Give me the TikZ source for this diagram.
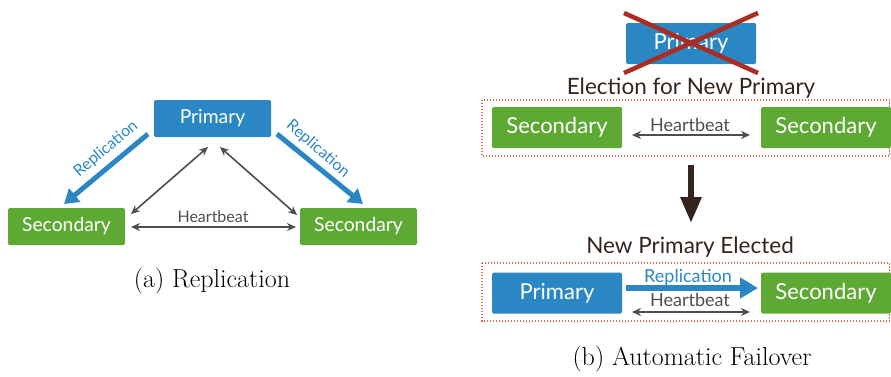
\documentclass[tikz,border=0pt]{standalone}
\usepackage{fontspec}
\setsansfont{Lato}
\usetikzlibrary{arrows.meta}
\definecolor{pblue}{RGB}{43,135,196}
\definecolor{sgreen}{RGB}{94,169,52}
\definecolor{hbgray}{RGB}{77,77,77}
\definecolor{xred}{RGB}{170,44,34}
\definecolor{titlebrown}{RGB}{52,36,28}
\definecolor{boxred}{RGB}{224,104,72}
\tikzset{
  fsz/.style={font=\sffamily\fontsize{#1}{#1}\selectfont},
  box/.style={rounded corners=1.5pt, text=white, inner sep=0pt, anchor=center},
  smallbox/.style={box, minimum width=117pt, minimum height=37pt, fsz=19.3},
  bigbox/.style={box, minimum width=130pt, minimum height=41pt, fsz=22},
  primbox/.style={fill=pblue},
  secbox/.style={fill=sgreen},
  repl/.style={draw=pblue, line width=5pt, -{Triangle[length=14pt,width=17pt]}},
  repltext/.style={text=pblue, inner sep=0pt},
  hbeat/.style={draw=hbgray, line width=1.6pt, {Stealth[length=9pt,width=8pt]}-{Stealth[length=9pt,width=8pt]}},
  hbtext/.style={text=hbgray, inner sep=0pt},
  heading/.style={text=titlebrown, inner sep=0pt, fsz=22.5},
  group/.style={draw=boxred, line width=1.3pt, dash pattern=on 1.4pt off 1.6pt},
  caption/.style={inner sep=0pt, font=\fontsize{26}{26}\selectfont},
}
\begin{document}
\begin{tikzpicture}[x=1pt,y=-1pt]
\useasboundingbox (0,0) rectangle (891,376);

% ---------- (a) Replication ----------
\node[smallbox, primbox] (pA) at (212.5,118.5) {Primary};
\node[smallbox, secbox] (sA1) at (66.5,226.5) {Secondary};
\node[smallbox, secbox] (sA2) at (358.5,226.5) {Secondary};

\coordinate (rl1) at (148,134);
\coordinate (rl2) at (64,204);
\coordinate (rr1) at (277,134);
\coordinate (rr2) at (363,204);
\draw[repl] (rl1) -- (rl2);
\draw[repl] (rr1) -- (rr2);
\node[repltext, fsz=16, rotate=40] (rlt) at (106,149) {Replication};
\node[repltext, fsz=16, rotate=-41] (rrt) at (318,149) {Replication};

\coordinate (hl1) at (208,147);
\coordinate (hl2) at (131,214);
\coordinate (hr1) at (220,147);
\coordinate (hr2) at (297,215);
\coordinate (hh1) at (131,227);
\coordinate (hh2) at (296,227);
\draw[hbeat] (hl1) -- (hl2);
\draw[hbeat] (hr1) -- (hr2);
\draw[hbeat] (hh1) -- (hh2);
\node[hbtext, fsz=16] (hAt) at (213,217) {Heartbeat};

\node[caption] (capA) at (212,281) {(a) Replication};

% ---------- (b) Automatic Failover ----------
\node[bigbox, primbox] (pOld) at (691,43.5) {Primary};
\draw[xred, line width=4.5pt] (624,13) -- (758,73);
\draw[xred, line width=4.5pt] (624,73) -- (758,13);

\node[heading] (elect) at (691,88) {Election for New Primary};
\draw[group] (482,100) rectangle (889.5,156);
\node[bigbox, secbox] (sB1) at (557,127.5) {Secondary};
\node[bigbox, secbox] (sB2) at (826,127.5) {Secondary};
\coordinate (hm1) at (632,135);
\coordinate (hm2) at (750,135);
\draw[hbeat] (hm1) -- (hm2);
\node[hbtext, fsz=18] (hBt1) at (690,125) {Heartbeat};

\coordinate (d1) at (691,165);
\coordinate (d2) at (691,223);
\draw[titlebrown, line width=6pt, -{Triangle[length=26pt,width=20pt]}] (d1) -- (d2);

\node[heading] (elected) at (690,247) {New Primary Elected};
\draw[group] (482,263) rectangle (889.5,321);
\node[bigbox, primbox] (pNew) at (557,293) {Primary};
\node[bigbox, secbox] (sB3) at (826,293) {Secondary};
\coordinate (rb1) at (626,288);
\coordinate (rb2) at (758,288);
\draw[draw=pblue, line width=6pt, -{Triangle[length=18pt,width=20pt]}] (rb1) -- (rb2);
\node[repltext, fsz=18] (rbt) at (688,277) {Replication};
\coordinate (hb1) at (632,312);
\coordinate (hb2) at (750,312);
\draw[hbeat] (hb1) -- (hb2);
\node[hbtext, fsz=18] (hBt2) at (690,300) {Heartbeat};

\node[caption] (capB) at (692,359) {(b) Automatic Failover};
\end{tikzpicture}
\end{document}
